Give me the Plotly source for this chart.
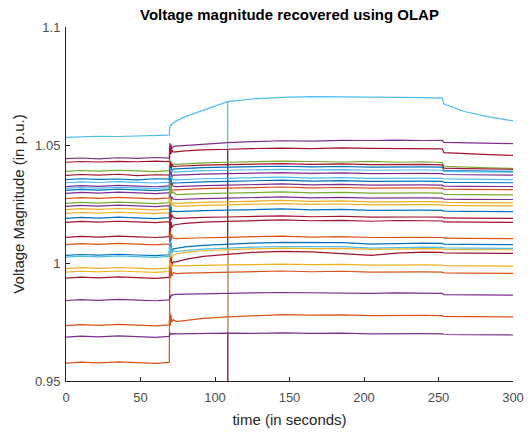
import plotly.graph_objects as go

T = [0, 10, 22, 35, 48, 60, 69.3, 69.7, 70.1, 70.5, 71.0, 72.0, 74, 80, 92, 108.5,
     125, 145, 165, 185, 205, 222, 240, 252.6, 253.6, 268, 284, 300]

COLORS = {"blue": "#0072BD", "orange": "#D95319", "yellow": "#EDB120", "purple": "#7E2F8E",
          "green": "#77AC30", "cyan": "#4DBEEE", "darkred": "#A2142F"}

bus01 = [1.0532, 1.0534, 1.0537, 1.0536, 1.0539, 1.0541, 1.0542, 1.0575, 1.0585, 1.0583, 1.0588, 1.0594,
         1.0602, 1.0620, 1.0648, 1.0684, 1.0695, 1.0702, 1.0705, 1.0705, 1.0704, 1.0702, 1.0701, 1.0699, 1.0674, 1.0641, 1.0619, 1.0602]
bus02 = [1.0442, 1.0445, 1.0441, 1.0446, 1.0443, 1.0447, 1.0444, 1.0508, 1.0472, 1.0502, 1.0482, 1.0494,
         1.0495, 1.0498, 1.0504, 1.0510, 1.0514, 1.0518, 1.0516, 1.0520, 1.0519, 1.0521, 1.0519, 1.0520, 1.0511, 1.0509, 1.0508, 1.0506]
bus03 = [1.0427, 1.0430, 1.0428, 1.0431, 1.0429, 1.0432, 1.0430, 1.0455, 1.0492, 1.0462, 1.0478, 1.0470,
         1.0472, 1.0475, 1.0479, 1.0482, 1.0485, 1.0487, 1.0485, 1.0488, 1.0486, 1.0485, 1.0487, 1.0484, 1.0468, 1.0463, 1.0459, 1.0456]
bus04 = [1.0388, 1.0392, 1.0389, 1.0393, 1.0390, 1.0387, 1.0391, 1.0440, 1.0395, 1.0432, 1.0405, 1.0420,
         1.0418, 1.0421, 1.0424, 1.0427, 1.0429, 1.0432, 1.0430, 1.0428, 1.0431, 1.0427, 1.0429, 1.0426, 1.0410, 1.0406, 1.0403, 1.0401]
bus05 = [1.0371, 1.0375, 1.0372, 1.0376, 1.0370, 1.0374, 1.0373, 1.0350, 1.0430, 1.0395, 1.0420, 1.0408,
         1.0410, 1.0412, 1.0415, 1.0417, 1.0419, 1.0421, 1.0418, 1.0420, 1.0417, 1.0419, 1.0418, 1.0416, 1.0402, 1.0400, 1.0398, 1.0397]
bus06 = [1.0353, 1.0357, 1.0354, 1.0356, 1.0352, 1.0357, 1.0355, 1.0410, 1.0370, 1.0402, 1.0390, 1.0398,
         1.0399, 1.0401, 1.0404, 1.0406, 1.0408, 1.0410, 1.0407, 1.0409, 1.0406, 1.0408, 1.0407, 1.0406, 1.0392, 1.0390, 1.0389, 1.0388]
bus07 = [1.0340, 1.0344, 1.0341, 1.0345, 1.0342, 1.0339, 1.0343, 1.0330, 1.0400, 1.0375, 1.0392, 1.0385,
         1.0386, 1.0388, 1.0391, 1.0393, 1.0395, 1.0397, 1.0394, 1.0396, 1.0393, 1.0395, 1.0394, 1.0393, 1.0388, 1.0387, 1.0386, 1.0385]
bus08 = [1.0324, 1.0328, 1.0325, 1.0329, 1.0326, 1.0323, 1.0327, 1.0395, 1.0350, 1.0385, 1.0365, 1.0372,
         1.0372, 1.0374, 1.0377, 1.0379, 1.0381, 1.0383, 1.0380, 1.0382, 1.0379, 1.0381, 1.0380, 1.0379, 1.0375, 1.0374, 1.0373, 1.0372]
bus09 = [1.0316, 1.0320, 1.0317, 1.0321, 1.0318, 1.0315, 1.0319, 1.0300, 1.0375, 1.0340, 1.0362, 1.0352,
         1.0352, 1.0354, 1.0357, 1.0359, 1.0361, 1.0364, 1.0360, 1.0362, 1.0359, 1.0361, 1.0360, 1.0359, 1.0356, 1.0355, 1.0354, 1.0353]
bus10 = [1.0308, 1.0312, 1.0309, 1.0313, 1.0310, 1.0307, 1.0311, 1.0365, 1.0320, 1.0355, 1.0335, 1.0340,
         1.0339, 1.0341, 1.0344, 1.0346, 1.0348, 1.0351, 1.0347, 1.0349, 1.0346, 1.0348, 1.0347, 1.0346, 1.0342, 1.0341, 1.0340, 1.0340]
bus11 = [1.0295, 1.0299, 1.0296, 1.0300, 1.0297, 1.0294, 1.0298, 1.0280, 1.0345, 1.0315, 1.0335, 1.0325,
         1.0324, 1.0326, 1.0328, 1.0330, 1.0332, 1.0335, 1.0331, 1.0333, 1.0330, 1.0332, 1.0331, 1.0330, 1.0326, 1.0325, 1.0324, 1.0324]
bus12 = [1.0273, 1.0277, 1.0274, 1.0278, 1.0275, 1.0272, 1.0276, 1.0330, 1.0290, 1.0322, 1.0305, 1.0310,
         1.0310, 1.0312, 1.0315, 1.0317, 1.0319, 1.0322, 1.0318, 1.0320, 1.0317, 1.0319, 1.0318, 1.0317, 1.0313, 1.0312, 1.0311, 1.0311]
bus13 = [1.0253, 1.0257, 1.0254, 1.0258, 1.0255, 1.0252, 1.0256, 1.0350, 1.0280, 1.0330, 1.0295, 1.0300,
         1.0290, 1.0292, 1.0294, 1.0296, 1.0298, 1.0301, 1.0297, 1.0299, 1.0296, 1.0298, 1.0297, 1.0296, 1.0291, 1.0290, 1.0290, 1.0289]
bus14 = [1.0240, 1.0244, 1.0241, 1.0245, 1.0242, 1.0239, 1.0243, 1.0225, 1.0290, 1.0262, 1.0280, 1.0270,
         1.0269, 1.0271, 1.0273, 1.0275, 1.0277, 1.0280, 1.0276, 1.0278, 1.0275, 1.0277, 1.0276, 1.0275, 1.0271, 1.0270, 1.0270, 1.0269]
bus15 = [1.0226, 1.0230, 1.0227, 1.0231, 1.0228, 1.0225, 1.0229, 1.0280, 1.0235, 1.0270, 1.0250, 1.0255,
         1.0253, 1.0255, 1.0257, 1.0259, 1.0261, 1.0265, 1.0261, 1.0263, 1.0259, 1.0261, 1.0260, 1.0259, 1.0257, 1.0256, 1.0256, 1.0255]
bus16 = [1.0210, 1.0214, 1.0211, 1.0215, 1.0212, 1.0209, 1.0213, 1.0195, 1.0265, 1.0235, 1.0255, 1.0243,
         1.0240, 1.0242, 1.0244, 1.0246, 1.0248, 1.0252, 1.0248, 1.0250, 1.0246, 1.0248, 1.0247, 1.0246, 1.0244, 1.0243, 1.0243, 1.0242]
bus17 = [1.0189, 1.0193, 1.0190, 1.0194, 1.0191, 1.0188, 1.0192, 1.0250, 1.0200, 1.0238, 1.0215, 1.0220,
         1.0218, 1.0220, 1.0222, 1.0224, 1.0226, 1.0229, 1.0225, 1.0227, 1.0223, 1.0225, 1.0224, 1.0223, 1.0220, 1.0219, 1.0219, 1.0218]
bus18 = [1.0172, 1.0176, 1.0173, 1.0177, 1.0174, 1.0171, 1.0175, 1.0150, 1.0215, 1.0185, 1.0205, 1.0192,
         1.0189, 1.0191, 1.0193, 1.0195, 1.0197, 1.0200, 1.0196, 1.0198, 1.0194, 1.0196, 1.0195, 1.0194, 1.0191, 1.0190, 1.0190, 1.0189]
bus19 = [1.0109, 1.0113, 1.0110, 1.0114, 1.0111, 1.0108, 1.0112, 1.0190, 1.0130, 1.0175, 1.0150, 1.0160,
         1.0163, 1.0168, 1.0173, 1.0177, 1.0180, 1.0183, 1.0179, 1.0181, 1.0177, 1.0180, 1.0179, 1.0178, 1.0174, 1.0173, 1.0172, 1.0172]
bus20 = [1.0078, 1.0082, 1.0079, 1.0083, 1.0080, 1.0077, 1.0081, 1.0060, 1.0135, 1.0095, 1.0120, 1.0105,
         1.0103, 1.0105, 1.0107, 1.0109, 1.0111, 1.0114, 1.0110, 1.0112, 1.0108, 1.0110, 1.0109, 1.0108, 1.0105, 1.0104, 1.0104, 1.0103]
bus21 = [1.0032, 1.0036, 1.0033, 1.0037, 1.0034, 1.0031, 1.0035, 1.0110, 1.0020, 1.0085, 1.0050, 1.0060,
         1.0062, 1.0068, 1.0075, 1.0080, 1.0084, 1.0087, 1.0085, 1.0086, 1.0080, 1.0083, 1.0084, 1.0083, 1.0080, 1.0079, 1.0079, 1.0078]
bus22 = [1.0025, 1.0029, 1.0026, 1.0030, 1.0027, 1.0024, 1.0028, 1.0090, 1.0010, 1.0070, 1.0040, 1.0050,
         1.0048, 1.0053, 1.0059, 1.0064, 1.0067, 1.0070, 1.0068, 1.0069, 1.0063, 1.0066, 1.0067, 1.0066, 1.0064, 1.0063, 1.0063, 1.0062]
bus23 = [0.9976, 0.9980, 0.9977, 0.9981, 0.9978, 0.9975, 0.9979, 1.0030, 0.9990, 1.0045, 1.0020, 1.0035,
         1.0038, 1.0045, 1.0052, 1.0057, 1.0060, 1.0063, 1.0061, 1.0062, 1.0058, 1.0060, 1.0061, 1.0060, 1.0058, 1.0057, 1.0057, 1.0056]
bus24 = [0.9936, 0.9940, 0.9937, 0.9941, 0.9938, 0.9935, 0.9939, 1.0010, 0.9960, 1.0025, 0.9990, 1.0005,
         1.0005, 1.0015, 1.0028, 1.0038, 1.0045, 1.0049, 1.0047, 1.0040, 1.0032, 1.0042, 1.0046, 1.0045, 1.0043, 1.0042, 1.0042, 1.0041]
bus25 = [0.9961, 0.9965, 0.9962, 0.9966, 0.9963, 0.9960, 0.9964, 1.0010, 0.9970, 1.0000, 0.9985, 0.9990,
         0.9988, 0.9989, 0.9991, 0.9992, 0.9993, 0.9995, 0.9993, 0.9994, 0.9991, 0.9993, 0.9992, 0.9991, 0.9989, 0.9988, 0.9988, 0.9987]
bus26 = [0.9576, 0.9580, 0.9577, 0.9581, 0.9578, 0.9575, 0.9579, 0.9990, 0.9935, 0.9980, 0.9945, 0.9960,
         0.9955, 0.9957, 0.9959, 0.9961, 0.9963, 0.9966, 0.9963, 0.9965, 0.9961, 0.9963, 0.9962, 0.9961, 0.9958, 0.9957, 0.9957, 0.9956]
bus27 = [0.9841, 0.9845, 0.9842, 0.9846, 0.9843, 0.9840, 0.9844, 0.9860, 0.9850, 0.9866, 0.9862, 0.9866,
         0.9867, 0.9868, 0.9870, 0.9872, 0.9873, 0.9875, 0.9873, 0.9874, 0.9871, 0.9873, 0.9872, 0.9871, 0.9866, 0.9865, 0.9865, 0.9864]
bus28 = [0.9735, 0.9739, 0.9736, 0.9740, 0.9737, 0.9734, 0.9738, 0.9790, 0.9735, 0.9780, 0.9750, 0.9760,
         0.9752, 0.9756, 0.9765, 0.9772, 0.9777, 0.9781, 0.9779, 0.9780, 0.9777, 0.9779, 0.9778, 0.9777, 0.9774, 0.9773, 0.9773, 0.9772]
bus29 = [0.9686, 0.9690, 0.9687, 0.9691, 0.9688, 0.9685, 0.9689, 0.9700, 0.9695, 0.9702, 0.9699, 0.9701,
         0.9700, 0.9701, 0.9702, 0.9703, 0.9702, 0.9704, 0.9702, 0.9703, 0.9700, 0.9702, 0.9701, 0.9700, 0.9697, 0.9696, 0.9696, 0.9695]

SERIES = [bus01, bus02, bus03, bus04, bus05, bus06, bus07, bus08, bus09, bus10, bus11, bus12, bus13, bus14,
          bus15, bus16, bus17, bus18, bus19, bus20, bus21, bus22, bus23, bus24, bus25, bus26, bus27, bus28, bus29]
SERIES_COLORS = ["cyan", "purple", "darkred", "green", "darkred", "blue", "cyan", "purple", "cyan", "blue",
                 "purple", "orange", "green", "purple", "yellow", "yellow", "blue", "darkred", "darkred", "orange",
                 "blue", "cyan", "yellow", "darkred", "yellow", "orange", "purple", "orange", "purple"]

# measurement glitch near t = 108.5 s (value recorded as 0, off the scale)
GLITCH_SERIES = [0, 2, 22, 28]
GLITCH_T = 108.5
GLITCH_V = 0.0

fig = go.Figure()
gi = T.index(GLITCH_T)
for k, (vals, cname) in enumerate(zip(SERIES, SERIES_COLORS)):
    xs, ys = list(T), list(vals)
    if k in GLITCH_SERIES:
        xs = T[:gi + 1] + [GLITCH_T, GLITCH_T] + T[gi + 1:]
        ys = vals[:gi + 1] + [GLITCH_V, vals[gi]] + vals[gi + 1:]
    fig.add_trace(go.Scatter(x=xs, y=ys, mode="lines",
                             line=dict(color=COLORS[cname], width=1.2),
                             showlegend=False, hoverinfo="skip"))

FONT = "Arial, Liberation Sans, Helvetica, sans-serif"
fig.update_layout(
    width=530, height=433,
    margin=dict(l=66, r=17, t=27, b=52, autoexpand=False),
    paper_bgcolor="white", plot_bgcolor="white",
    font=dict(family=FONT, size=13, color="#262626"),
    title=dict(text="<b>Voltage magnitude recovered using OLAP</b>",
               x=0.5, xref="paper", xanchor="center",
               y=1 - 15 / 433, yref="container", yanchor="middle",
               font=dict(size=15, color="#000000")),
)
fig.update_xaxes(range=[0, 300], tickmode="array", tickvals=[0, 50, 100, 150, 200, 250, 300],
                 ticks="inside", ticklen=4, tickcolor="#262626", automargin=False,
                 showline=True, linecolor="#262626", linewidth=1, mirror=False,
                 showgrid=False, zeroline=False, ticklabelstandoff=4,
                 tickfont=dict(size=13, color="#4d4d4d"),
                 title=dict(text="time (in seconds)", font=dict(size=15, color="#262626"), standoff=10))
fig.update_yaxes(range=[0.95, 1.1], tickmode="array", tickvals=[0.95, 1.0, 1.05, 1.1],
                 ticktext=["0.95", "1", "1.05", "1.1"],
                 ticks="inside", ticklen=4, tickcolor="#262626", automargin=False,
                 showline=True, linecolor="#262626", linewidth=1, mirror=False,
                 showgrid=False, zeroline=False, ticklabelstandoff=2,
                 tickfont=dict(size=13, color="#4d4d4d"),
                 title=dict(text="Voltage Magnitude (in p.u.)", font=dict(size=15, color="#262626"), standoff=6))

fig.write_html("out.html")
